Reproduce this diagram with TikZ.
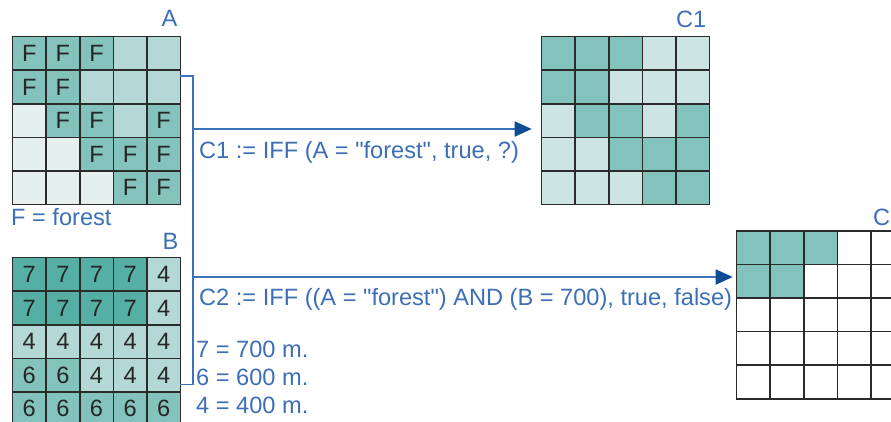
\documentclass[tikz,border=0pt]{standalone}
\usepackage{fontspec}
\setmainfont{Liberation Sans}[Ligatures=TeXOff]
\usetikzlibrary{arrows.meta}
\definecolor{cD}{HTML}{84C3BC}
\definecolor{cL}{HTML}{B4D8D5}
\definecolor{cV}{HTML}{E4EFEE}
\definecolor{cS}{HTML}{55AFA5}
\definecolor{cC}{HTML}{CCE5E2}
\definecolor{cW}{HTML}{FFFFFF}
\definecolor{gridc}{HTML}{2B2B2B}
\definecolor{tblue}{HTML}{3D6FB6}
\definecolor{lblue}{HTML}{3B73BB}
\definecolor{hblue}{HTML}{0E4C96}
\begin{document}
\begin{tikzpicture}[x=1pt,y=-1pt,
  font=\fontsize{23.6}{28}\selectfont,
  cell/.style={draw=gridc, line width=1.6pt, minimum size=33.6pt, inner sep=0pt, anchor=north west, text=black!85},
  lbl/.style={text=tblue, anchor=base west, inner sep=0pt},
  conn/.style={draw=lblue, line width=1.8pt},
  arr/.style={conn, -{Triangle[length=17pt,width=15pt,fill=hblue,color=hblue]}}]
\clip (0,0) rectangle (891,421);
\fill[white] (0,0) rectangle (891,421);
% grid A
\foreach \row [count=\r] in {{cD/F,cD/F,cD/F,cL/{},cL/{}},{cD/F,cD/F,cL/{},cL/{},cL/{}},{cV/{},cD/F,cD/F,cL/{},cD/F},{cV/{},cV/{},cD/F,cD/F,cD/F},{cV/{},cV/{},cV/{},cD/F,cD/F}}{
  \foreach \col/\txt [count=\c] in \row {
    \node[cell, fill=\col] (A-\r-\c) at ({11.7+(\c-1)*33.6},{35.7+(\r-1)*33.6}) {\txt};
  }
}
% grid B
\foreach \row [count=\r] in {{cS/7,cS/7,cS/7,cS/7,cL/4},{cS/7,cS/7,cS/7,cS/7,cL/4},{cL/4,cL/4,cL/4,cL/4,cL/4},{cD/6,cD/6,cL/4,cL/4,cL/4},{cD/6,cD/6,cD/6,cD/6,cD/6}}{
  \foreach \col/\txt [count=\c] in \row {
    \node[cell, fill=\col] (B-\r-\c) at ({11.7+(\c-1)*33.6},{256.7+(\r-1)*33.6}) {\txt};
  }
}
% grid C1
\foreach \row [count=\r] in {{cD,cD,cD,cC,cC},{cD,cD,cC,cC,cC},{cC,cD,cD,cC,cD},{cC,cC,cD,cD,cD},{cC,cC,cC,cD,cD}}{
  \foreach \col [count=\c] in \row {
    \node[cell, fill=\col] (C1-\r-\c) at ({540.7+(\c-1)*33.6},{35.7+(\r-1)*33.6}) {};
  }
}
% grid C2
\foreach \row [count=\r] in {{cD,cD,cD,cW,cW},{cD,cD,cW,cW,cW},{cW,cW,cW,cW,cW},{cW,cW,cW,cW,cW},{cW,cW,cW,cW,cW}}{
  \foreach \col [count=\c] in \row {
    \node[cell, fill=\col] (C2-\r-\c) at ({735.7+(\c-1)*33.6},{230+(\r-1)*33.6}) {};
  }
}
% labels
\node[lbl] (la) at (161.5,26) {A};
\node[lbl] (lb) at (162.5,249) {B};
\node[lbl] (lc1) at (676,27) {C1};
\node[lbl] (lc2) at (873,225) {C2};
\node[lbl] (lf) at (11,225) {F = forest};
\node[lbl] (e1) at (199,158) {C1 := IFF (A = "forest", true, ?)};
\node[lbl] (e2) at (199,305) {C2 := IFF ((A = "forest") AND (B = 700), true, false)};
\node[lbl] (l7) at (196,357) {7 = 700 m.};
\node[lbl] (l6) at (196,385) {6 = 600 m.};
\node[lbl] (l4) at (196,413) {4 = 400 m.};
% connectors
\coordinate (a1) at (180,76);
\coordinate (v1) at (193,76);
\coordinate (v2) at (193,384.5);
\coordinate (b1) at (180,384.5);
\coordinate (s1) at (193,129);
\coordinate (t1) at (531.7,129);
\coordinate (s2) at (193,277);
\coordinate (t2) at (732.7,277);
\draw[conn] (a1) -- (v1) -- (v2) -- (b1);
\draw[arr] (s1) -- (t1);
\draw[arr] (s2) -- (t2);
\end{tikzpicture}
\end{document}
